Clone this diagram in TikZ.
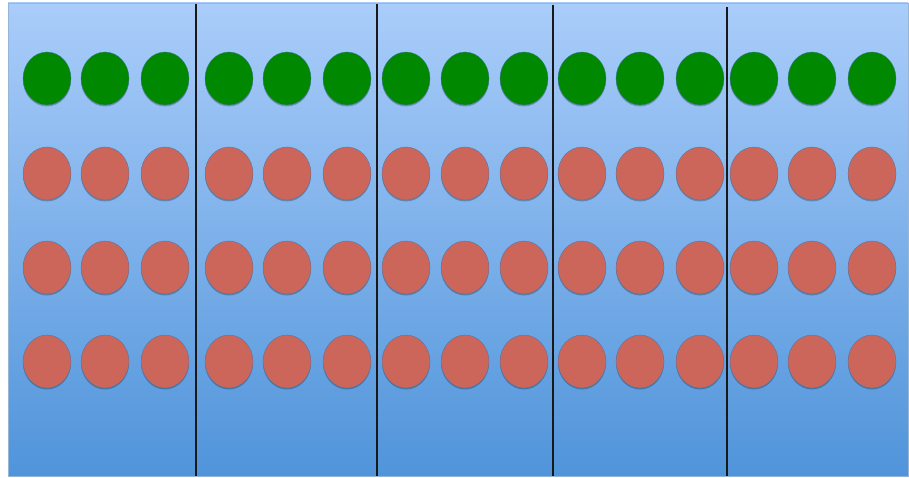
\documentclass[tikz,border=0pt]{standalone}
\usetikzlibrary{shadows,shapes.geometric}
\definecolor{bgtop}{RGB}{170,205,250}
\definecolor{bgbot}{RGB}{80,148,218}
\definecolor{bgedge}{RGB}{150,182,215}
\definecolor{dotgreen}{RGB}{0,136,0}
\definecolor{dotred}{RGB}{204,102,90}
\tikzset{
  dotbase/.style={ellipse, draw=bgbot!80!black, line width=0.3pt, minimum width=48pt, minimum height=53pt, inner sep=0pt,
     drop shadow={shadow xshift=0pt, shadow yshift=-1.5pt, opacity=0.25, fill=black}},
  gdot/.style={dotbase, fill=dotgreen},
  rdot/.style={dotbase, fill=dotred},
  divider/.style={line width=2.4pt, black!90},
}
\begin{document}
\begin{tikzpicture}[x=1pt,y=-1pt]
\useasboundingbox (0,0) rectangle (909,478);
\fill[white] (0,0) rectangle (909,478);
\shade[top color=bgtop, bottom color=bgbot] (8,3) rectangle (908,476);
\draw[bgedge, line width=0.6pt] (8,3) rectangle (908,476);
% dividers
\foreach \x/\yt [count=\i] in {196/4,377/4,553/5,727/7}{
  \coordinate (dt\i) at (\x,\yt);
  \coordinate (db\i) at (\x,476);
  \draw[divider] (dt\i) -- (db\i);
}
% dots
\foreach \x [count=\c] in {47,105,165,229,287,347,406,465,524,582,640,700,754,812,872}{
  \node[gdot] (g\c) at (\x,78.5) {};
  \foreach \y [count=\r] in {173.5,267.5,361.5}{
    \node[rdot] (r\r-\c) at (\x,\y) {};
  }
}
\end{tikzpicture}
\end{document}
